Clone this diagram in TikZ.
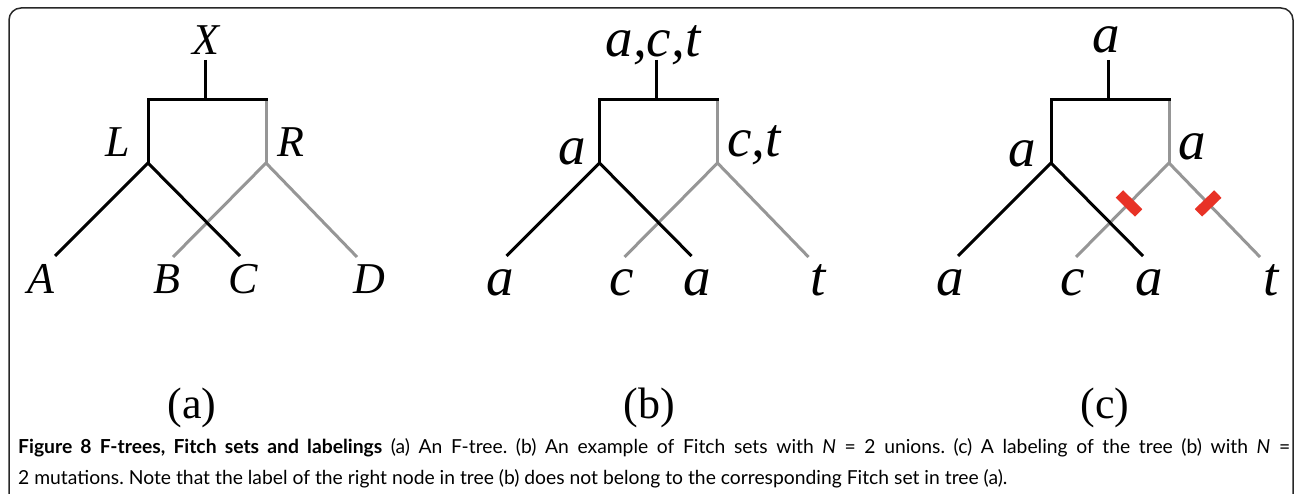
\documentclass[tikz,border=0pt]{standalone}
\usepackage{fontspec}
\setmainfont{Liberation Serif}
\newfontfamily\capfont{Lato}
\usetikzlibrary{calc}
\definecolor{treegray}{RGB}{150,150,150}
\definecolor{mutred}{RGB}{232,50,38}
\definecolor{framecol}{RGB}{40,40,40}
\tikzset{
  blk/.style={line width=3pt, black},
  gry/.style={line width=3pt, treegray},
  mut/.style={line width=10.5pt, mutred},
  caplab/.style={font=\fontsize{44}{50}\selectfont\itshape, anchor=base, inner sep=0pt},
  lowlab/.style={font=\fontsize{55}{60}\selectfont\itshape, anchor=base, inner sep=0pt},
  sublab/.style={font=\fontsize{44}{50}\selectfont, anchor=base, inner sep=0pt},
  captext/.style={font=\capfont\fontsize{19.3}{21}\selectfont\frenchspacing, anchor=base west, inner sep=0pt},
  frame/.style={draw=framecol, line width=1.5pt, rounded corners=12pt}
}
\begin{document}
\begin{tikzpicture}[x=1pt,y=-1pt]
\useasboundingbox (0,0) rectangle (1295,494);
\clip (0,0) rectangle (1295,494);
\draw[frame] (9,8) rectangle (1293,530);

\foreach \t/\dx in {a/0,b/451.5,c/903}{
  \begin{scope}[xshift=\dx pt]
    \coordinate (\t-top) at (205,60);
    \coordinate (\t-hub) at (205,100);
    \coordinate (\t-bl) at (148,100);
    \coordinate (\t-br) at (266,100);
    \coordinate (\t-L) at (148,163);
    \coordinate (\t-R) at (266,163);
    \coordinate (\t-1) at (55,256);
    \coordinate (\t-3) at (240,256);
    \coordinate (\t-2) at (173,257);
    \coordinate (\t-4) at (357,257);
  \end{scope}
  \draw[gry] (\t-br) -- (\t-R);
  \draw[gry] (\t-2) -- (\t-R) -- (\t-4);
  \draw[blk] (\t-top) -- (\t-hub);
  \draw[blk] (\t-L) -- (\t-bl) -- ([xshift=1.5pt]\t-br);
  \draw[blk] (\t-1) -- (\t-L) -- (\t-3);
}

% mutation marks on tree (c)
\path (c-R) -- (c-2) coordinate[pos=0.43] (m1);
\path (c-R) -- (c-4) coordinate[pos=0.43] (m2);
\draw[mut] ($(m1)!13.5pt!90:(c-2)$) -- ($(m1)!13.5pt!-90:(c-2)$);
\draw[mut] ($(m2)!13.5pt!90:(c-4)$) -- ($(m2)!13.5pt!-90:(c-4)$);

% labels tree (a)
\node[caplab] (la-X) at (206,55) {X};
\node[caplab] (la-L) at (118,157) {L};
\node[caplab] (la-R) at (291,157) {R};
\node[caplab] (la-A) at (41,293) {A};
\node[caplab] (la-B) at (167,293) {B};
\node[caplab] (la-C) at (243,293) {C};
\node[caplab] (la-D) at (369,293) {D};

% labels tree (b)
\node[lowlab] (lb-top) at (653,57) {a,c,t};
\node[lowlab] (lb-L) at (572,165) {a};
\node[lowlab] (lb-R) at (754,157) {c,t};
\node[lowlab] (lb-1) at (500,295) {a};
\node[lowlab] (lb-2) at (622,295) {c};
\node[lowlab] (lb-3) at (697,295) {a};
\node[lowlab] (lb-4) at (818,295) {t};

% labels tree (c)
\node[lowlab] (lc-top) at (1106,53) {a};
\node[lowlab] (lc-L) at (1022,167) {a};
\node[lowlab] (lc-R) at (1192,160) {a};
\node[lowlab] (lc-1) at (950,295) {a};
\node[lowlab] (lc-2) at (1073,295) {c};
\node[lowlab] (lc-3) at (1149,295) {a};
\node[lowlab] (lc-4) at (1271,295) {t};

% sub-figure labels
\node[sublab] (sa) at (192,418) {(a)};
\node[sublab] (sb) at (649,418) {(b)};
\node[sublab] (sc) at (1105,418) {(c)};

% caption
\node[captext] (cap1) at (18,453) {\hbox to 1272pt{\textbf{Figure 8 F-trees, Fitch sets and labelings} (a) An F-tree. (b) An example of Fitch sets with \textit{N} = 2 unions. (c) A labeling of the tree (b) with \textit{N} =}};
\node[captext] (cap2) at (18,484) {2 mutations. Note that the label of the right node in tree (b) does not belong to the corresponding Fitch set in tree (a).};
\end{tikzpicture}
\end{document}
